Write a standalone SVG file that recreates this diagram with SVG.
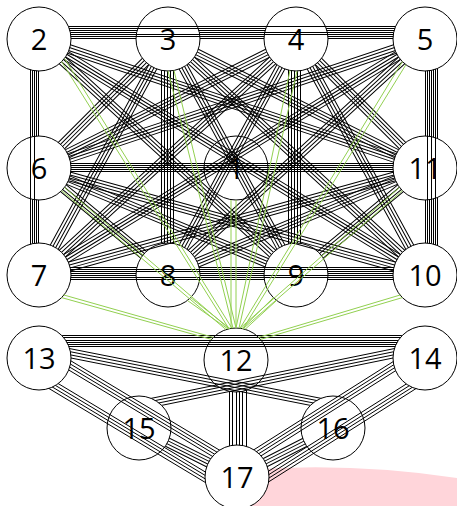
<svg xmlns="http://www.w3.org/2000/svg" width="457" height="506" viewBox="0 0 457 506">
<style>
.n circle{fill:#fff;stroke:#000;stroke-width:1}
.n text{font-family:"Open Sans","Liberation Sans",sans-serif;font-size:29px;text-anchor:middle;fill:#000}
#black{stroke:#000;stroke-width:1;fill:none}
#green{stroke:#92D050;stroke-width:1;fill:none}
</style>
<defs>
<rect id="mr" width="457" height="506" fill="#fff"/>
<mask id="k2" maskUnits="userSpaceOnUse" x="0" y="0" width="457" height="506"><use href="#mr"/><circle cx="39" cy="39" r="32"/></mask>
<mask id="k3" maskUnits="userSpaceOnUse" x="0" y="0" width="457" height="506"><use href="#mr"/><circle cx="168" cy="39" r="32"/></mask>
<mask id="k4" maskUnits="userSpaceOnUse" x="0" y="0" width="457" height="506"><use href="#mr"/><circle cx="296" cy="39" r="32"/></mask>
<mask id="k5" maskUnits="userSpaceOnUse" x="0" y="0" width="457" height="506"><use href="#mr"/><circle cx="425" cy="39" r="32"/></mask>
<mask id="k6" maskUnits="userSpaceOnUse" x="0" y="0" width="457" height="506"><use href="#mr"/><circle cx="39" cy="168" r="32"/></mask>
<mask id="k7" maskUnits="userSpaceOnUse" x="0" y="0" width="457" height="506"><use href="#mr"/><circle cx="39" cy="275" r="32"/></mask>
<mask id="k8" maskUnits="userSpaceOnUse" x="0" y="0" width="457" height="506"><use href="#mr"/><circle cx="168" cy="275" r="32"/></mask>
<mask id="k9" maskUnits="userSpaceOnUse" x="0" y="0" width="457" height="506"><use href="#mr"/><circle cx="296" cy="275" r="32"/></mask>
<mask id="k10" maskUnits="userSpaceOnUse" x="0" y="0" width="457" height="506"><use href="#mr"/><circle cx="425" cy="275" r="32"/></mask>
<mask id="k11" maskUnits="userSpaceOnUse" x="0" y="0" width="457" height="506"><use href="#mr"/><circle cx="425" cy="168" r="32"/></mask>
<mask id="k12" maskUnits="userSpaceOnUse" x="0" y="0" width="457" height="506"><use href="#mr"/><circle cx="236" cy="360" r="32"/></mask>
<mask id="k13" maskUnits="userSpaceOnUse" x="0" y="0" width="457" height="506"><use href="#mr"/><circle cx="39" cy="358" r="32"/></mask>
<mask id="k14" maskUnits="userSpaceOnUse" x="0" y="0" width="457" height="506"><use href="#mr"/><circle cx="425" cy="358" r="32"/></mask>
<mask id="k15" maskUnits="userSpaceOnUse" x="0" y="0" width="457" height="506"><use href="#mr"/><circle cx="139" cy="428" r="32"/></mask>
<mask id="k16" maskUnits="userSpaceOnUse" x="0" y="0" width="457" height="506"><use href="#mr"/><circle cx="333" cy="428" r="32"/></mask>
<mask id="k17" maskUnits="userSpaceOnUse" x="0" y="0" width="457" height="506"><use href="#mr"/><circle cx="237" cy="477" r="32"/></mask>
<path id="d110" d="M0 -4.5H110M0 -1.5H110M0 1.5H110M0 4.5H110"/>
<path id="d170" d="M0 -4.5H170M0 -1.5H170M0 1.5H170M0 4.5H170"/>
<path id="d275" d="M0 -4.5H275M0 -1.5H275M0 1.5H275M0 4.5H275"/>
<path id="d350" d="M0 -4.5H350M0 -1.5H350M0 1.5H350M0 4.5H350"/>
<path id="d405" d="M0 -4.5H405M0 -1.5H405M0 1.5H405M0 4.5H405"/>
<path id="d452" d="M0 -4.5H452M0 -1.5H452M0 1.5H452M0 4.5H452"/>
</defs>

<path d="M245 470 Q350 462 457 478 V506 H245 Z" fill="#FFD5DA"/>

<g id="nodes">
<g id="node-1" class="n"><circle cx="236" cy="168" r="32"/><text x="236" y="178.5">1</text></g>
<g id="node-2" class="n"><circle cx="39" cy="39" r="32"/><text x="39" y="49.5">2</text></g>
<g id="node-3" class="n"><circle cx="168" cy="39" r="32"/><text x="168" y="49.5">3</text></g>
<g id="node-4" class="n"><circle cx="296" cy="39" r="32"/><text x="296" y="49.5">4</text></g>
<g id="node-5" class="n"><circle cx="425" cy="39" r="32"/><text x="425" y="49.5">5</text></g>
<g id="node-6" class="n"><circle cx="39" cy="168" r="32"/><text x="39" y="178.5">6</text></g>
<g id="node-7" class="n"><circle cx="39" cy="275" r="32"/><text x="39" y="285.5">7</text></g>
<g id="node-8" class="n"><circle cx="168" cy="275" r="32"/><text x="168" y="285.5">8</text></g>
<g id="node-9" class="n"><circle cx="296" cy="275" r="32"/><text x="296" y="285.5">9</text></g>
<g id="node-10" class="n"><circle cx="425" cy="275" r="32"/><text x="425" y="285.5">10</text></g>
<g id="node-11" class="n"><circle cx="425" cy="168" r="32"/><text x="425" y="178.5">11</text></g>
<g id="node-12" class="n"><circle cx="236" cy="360" r="32"/><text x="236" y="370.5">12</text></g>
<g id="node-13" class="n"><circle cx="39" cy="358" r="32"/><text x="39" y="368.5">13</text></g>
<g id="node-14" class="n"><circle cx="425" cy="358" r="32"/><text x="425" y="368.5">14</text></g>
<g id="node-15" class="n"><circle cx="139" cy="428" r="32"/><text x="139" y="438.5">15</text></g>
<g id="node-16" class="n"><circle cx="333" cy="428" r="32"/><text x="333" y="438.5">16</text></g>
<g id="node-17" class="n"><circle cx="237" cy="477" r="32"/><text x="237" y="487.5">17</text></g>
</g>

<g id="connectors">
<g id="black">
<g mask="url(#k2)">
<g mask="url(#k3)"><path d="M39 38.5H168M39 32.5H168M39 30.5H168"/></g>
<g mask="url(#k4)"><path d="M39 36.5H296M39 28.5H296"/></g>
<g mask="url(#k5)"><path d="M39 34.5H425M39 26.5H425"/></g>
<g mask="url(#k6)"><path d="M38.5 39V168M36.5 39V168M32.5 39V168"/></g>
<g mask="url(#k7)"><path d="M34.5 39V275M30.5 39V275"/></g>
<g mask="url(#k9)"><use href="#d350" transform="translate(39,39) rotate(42.56)"/></g>
<g mask="url(#k10)"><use href="#d452" transform="translate(39,39) rotate(31.44)"/></g>
<g mask="url(#k11)"><use href="#d405" transform="translate(39,39) rotate(18.48)"/></g>
</g>
<g mask="url(#k3)">
<g mask="url(#k4)"><path d="M168 38.5H296M168 30.5H296"/></g>
<g mask="url(#k5)"><path d="M168 32.5H425"/></g>
<g mask="url(#k8)"><path d="M161.5 39V275M164.5 39V275M167.5 39V275M170.5 39V275M173.5 39V275"/></g>
<g mask="url(#k6)"><use href="#d170" transform="translate(168,39) rotate(135)"/></g>
<g mask="url(#k7)"><use href="#d275" transform="translate(168,39) rotate(118.66)"/></g>
<g mask="url(#k9)"><use href="#d275" transform="translate(168,39) rotate(61.52)"/></g>
<g mask="url(#k10)"><use href="#d350" transform="translate(168,39) rotate(42.56)"/></g>
<g mask="url(#k11)"><use href="#d275" transform="translate(168,39) rotate(26.65)"/></g>
</g>
<g mask="url(#k4)">
<g mask="url(#k5)"><path d="M296 38.5H425M296 36.5H425M296 30.5H425M296 28.5H425"/></g>
<g mask="url(#k9)"><path d="M288.5 39V275M291.5 39V275M294.5 39V275M297.5 39V275M300.5 39V275"/></g>
<g mask="url(#k6)"><use href="#d275" transform="translate(296,39) rotate(153.35)"/></g>
<g mask="url(#k7)"><use href="#d350" transform="translate(296,39) rotate(137.44)"/></g>
<g mask="url(#k8)"><use href="#d275" transform="translate(296,39) rotate(118.48)"/></g>
<g mask="url(#k10)"><use href="#d275" transform="translate(296,39) rotate(61.34)"/></g>
<g mask="url(#k11)"><use href="#d170" transform="translate(296,39) rotate(45)"/></g>
</g>
<g mask="url(#k5)">
<g mask="url(#k11)"><path d="M425.5 39V168M429.5 39V168M433.5 39V168M437.5 39V168"/></g>
<g mask="url(#k10)"><path d="M427.5 39V275M431.5 39V275M435.5 39V275"/></g>
<g mask="url(#k6)"><use href="#d405" transform="translate(425,39) rotate(161.52)"/></g>
<g mask="url(#k7)"><use href="#d452" transform="translate(425,39) rotate(148.56)"/></g>
<g mask="url(#k8)"><use href="#d350" transform="translate(425,39) rotate(137.44)"/></g>
</g>
<g mask="url(#k6)">
<g mask="url(#k7)"><path d="M38.5 168V275M36.5 168V275M32.5 168V275"/></g>
<g mask="url(#k11)"><path d="M39 163.5H425M39 165.5H425M39 167.5H425M39 169.5H425M39 171.5H425"/></g>
<g mask="url(#k8)"><use href="#d170" transform="translate(39,168) rotate(39.67)"/></g>
<g mask="url(#k9)"><use href="#d275" transform="translate(39,168) rotate(22.6)"/></g>
<g mask="url(#k10)"><use href="#d405" transform="translate(39,168) rotate(15.49)"/></g>
</g>
<g mask="url(#k11)">
<g mask="url(#k10)"><path d="M425.5 168V275M429.5 168V275M433.5 168V275M437.5 168V275"/></g>
<g mask="url(#k7)"><use href="#d405" transform="translate(425,168) rotate(164.51)"/></g>
<g mask="url(#k8)"><use href="#d275" transform="translate(425,168) rotate(157.4)"/></g>
<g mask="url(#k9)"><use href="#d170" transform="translate(425,168) rotate(140.33)"/></g>
</g>
<g mask="url(#k7)">
<g mask="url(#k8)"><path d="M39 267.5H168M39 273.5H168M39 275.5H168"/></g>
<g mask="url(#k9)"><path d="M39 271.5H296M39 279.5H296"/></g>
<g mask="url(#k10)"><path d="M39 269.5H425M39 277.5H425"/></g>
</g>
<g mask="url(#k8)">
<g mask="url(#k9)"><path d="M168 273.5H296"/></g>
<g mask="url(#k10)"><path d="M168 267.5H425M168 275.5H425"/></g>
</g>
<g mask="url(#k9)">
<g mask="url(#k10)"><path d="M296 271.5H425M296 273.5H425M296 279.5H425"/></g>
</g>
<g mask="url(#k13)">
<g mask="url(#k14)"><path d="M39 335.5H425M39 337.5H425M39 340.5H425M39 342.5H425M39 344.5H425M39 346.5H425"/></g>
<g mask="url(#k16)"><path d="M56.3 355.1L325.1 408.3M56.9 352.2L325.7 405.4M57.5 349.2L326.3 402.4M58.1 346.3L326.9 399.5"/></g>
<g mask="url(#k17)"><path d="M46.2 346L244.2 465M44.7 348.6L242.7 467.6M43.1 351.1L241.1 470.1M41.6 353.7L239.6 472.7M32.8 368.3L230.8 487.3M31.3 370.9L229.3 489.9M29.7 373.4L227.7 492.4M28.2 376L226.2 495"/></g>
</g>
<g mask="url(#k14)">
<g mask="url(#k15)"><path d="M407.7 355L146.9 408.4M407.1 352.1L146.3 405.5M406.5 349.1L145.7 402.5M405.9 346.2L145.1 399.6"/></g>
<g mask="url(#k17)"><path d="M417.5 346.2L229.5 465.2M419.1 348.7L231.1 467.7M420.7 351.2L232.7 470.2M422.3 353.8L234.3 472.8M431.4 368.1L243.4 487.1M433 370.7L245 489.7M434.6 373.2L246.6 492.2M436.2 375.8L248.2 494.8"/></g>
</g>
<g mask="url(#k12)">
<g mask="url(#k17)"><path d="M229.5 360V477M232.5 360V477M236.5 360V477M239.5 360V477M242.5 360V477M246.5 360V477"/></g>
</g>
<g mask="url(#k15)">
<g mask="url(#k17)"><use href="#d110" transform="translate(139,428) rotate(26.57)"/></g>
</g>
<g mask="url(#k16)">
<g mask="url(#k17)"><use href="#d110" transform="translate(333,428) rotate(152.96)"/></g>
</g>
</g>
<g id="green">
<path d="M231 200V328.4M236 200V328"/>
<path d="M61.6 61.6L229 328.8M64.6 58.6L232 328.3"/>
<path d="M168 71L233 328.2M174 70.5L236 328"/>
<path d="M290 70.4L236 328M297 71L239 328.1"/>
<path d="M402.4 61.6L240 328.3M406 64.5L243 328.8"/>
<path d="M61.6 190.6L226 329.6M64.6 187.6L229 328.8"/>
<path d="M61.6 297.6L211.5 339.4M63.5 294.9L213.4 337.4"/>
<path d="M190.6 297.6L230 328.6M187.6 300.6L228 329"/>
<path d="M273.4 297.6L242 328.6M276.4 300.6L245 329.4"/>
<path d="M402.4 297.6L260.5 339.4M400.5 294.9L258.6 337.4"/>
<path d="M402.4 190.6L243 328.8M399.4 187.6L240 328.3"/>
</g>
</g>
</svg>
